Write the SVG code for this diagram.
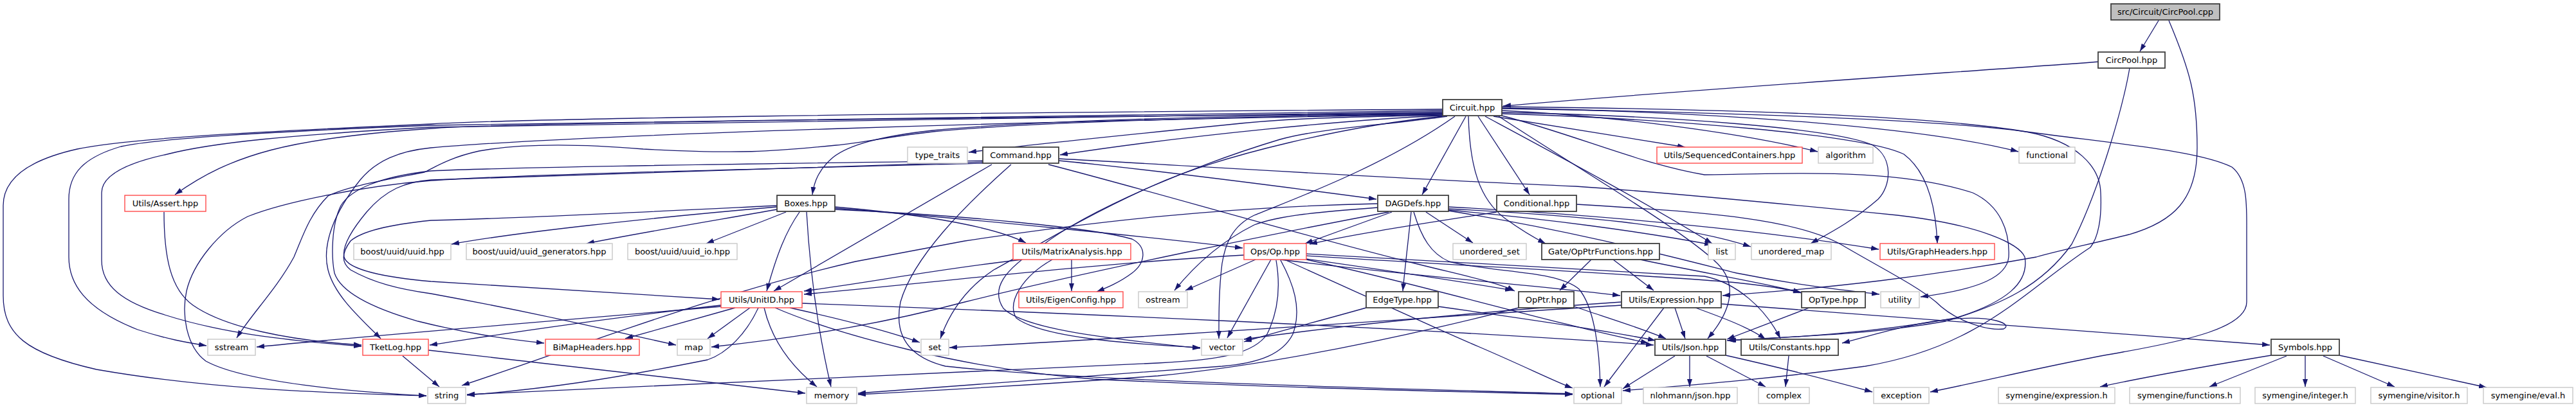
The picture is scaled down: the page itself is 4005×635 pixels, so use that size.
<svg xmlns="http://www.w3.org/2000/svg" width="4005" height="635" viewBox="0 0 4005 635">
<style>
.e path{fill:none;stroke:#191970;stroke-width:1.3;marker-end:url(#a)}
rect{fill:#fff;stroke-width:1.4}
.b rect{stroke:#404040;stroke-width:1.8}
.r rect{stroke:#ff4a4a}
.g rect{stroke:#c8c8c8}
.root rect{fill:#bfbfbf;stroke:#404040;stroke-width:1.8}
text{font-family:"DejaVu Sans","Liberation Sans",sans-serif;font-size:13px;fill:#000;text-anchor:middle}
</style>
<defs>
<marker id="a" viewBox="0 0 12 8" refX="12" refY="4" markerWidth="12" markerHeight="8" markerUnits="userSpaceOnUse" orient="auto"><path d="M0,0 L12,4 L0,8 z" fill="#191970"/></marker>
</defs>
<rect x="0" y="0" width="4005" height="635" style="fill:#fff;stroke:none"/>
<g class="e" id="connectors">
<path d="M3356,32 L3327,80"/>
<path d="M3372,32 C3405,110 3416,150 3416,230 C3416,310 3380,345 3310,365 C3250,380 3200,390 3166,400 C3000,430 2850,448 2678,460"/>
<path d="M3265,96 C3050,112 2620,140 2337,165"/>
<path d="M3311,106 C3300,170 3262,300 3221,380 C3175,445 3110,475 3025,500 C2900,522 2780,524 2685,530"/>
<path d="M2243,170 C1400,176 800,185 670,193 C400,205 200,215 120,232 C40,250 5,280 5,320 L5,460 C5,520 40,550 150,575 C350,610 550,612 663,616"/>
<path d="M2243,172 C1400,180 900,190 670,195 C420,205 250,215 188,228 C130,245 107,270 107,310 L107,400 C107,440 130,480 214,513 C260,528 290,533 321,538"/>
<path d="M2243,174 C1400,182 900,192 670,198 C450,210 330,222 260,240 C190,255 158,275 158,300 L158,405 C158,445 190,470 256,490 C350,520 450,530 562,539"/>
<path d="M2243,176 C1500,184 800,190 670,200 C450,215 360,240 272,303"/>
<path d="M2243,178 C1600,188 900,210 670,230 C620,235 585,250 560,280 C520,330 500,380 510,420 C520,460 560,495 592,527"/>
<path d="M2243,177 C1900,182 1600,190 1450,205 C1380,213 1340,222 1300,226 C1200,236 1150,240 1000,232 C880,222 800,225 745,235 C700,245 680,258 660,268 C600,280 540,290 510,305 C480,335 470,370 457,400 C430,450 390,490 368,526"/>
<path d="M2243,176 C1900,180 1600,188 1450,203 C1370,212 1320,225 1295,245 C1275,262 1266,280 1263,303"/>
<path d="M2243,179 C2050,183 1990,185 1900,195 C1750,210 1600,225 1506,237"/>
<path d="M2243,180 C2100,186 1850,210 1648,241"/>
<path d="M2243,181 C2100,195 1900,240 1790,290 C1680,340 1600,390 1545,420 C1500,450 1475,490 1462,527"/>
<path d="M2250,181 C2150,195 2050,200 1990,217 C1880,250 1700,320 1619,383 C1560,420 1540,450 1560,480 C1590,510 1700,525 1866,542"/>
<path d="M2262,181 C2150,260 2010,310 1950,335 C1915,352 1905,380 1900,410 C1895,450 1895,490 1895,527"/>
<path d="M2279,181 L2211,303"/>
<path d="M2298,181 L2378,303"/>
<path d="M2283,181 C2285,260 2300,310 2340,340 C2365,358 2385,370 2403,379"/>
<path d="M2309,181 C2400,230 2550,310 2662,379"/>
<path d="M2322,181 L2620,229"/>
<path d="M2335,172 C2500,180 2700,205 2826,236"/>
<path d="M2335,168 C2700,175 3000,200 3138,236"/>
<path d="M2335,175 C2600,180 2850,200 2910,225 C2945,245 2940,290 2920,310 C2880,345 2840,365 2815,379"/>
<path d="M2335,177 C2600,185 2900,210 2960,240 C3000,270 3010,330 3012,379"/>
<path d="M2335,180 C2450,210 2550,255 2650,272 C2800,270 2950,262 3067,300 C3110,320 3125,360 3123,400 C3120,430 3080,450 2986,462"/>
<path d="M2335,166 C2700,170 3000,180 3150,205 C3300,225 3420,235 3470,260 C3495,280 3493,320 3493,360 L3493,470 C3493,510 3400,530 3300,548 C3200,565 3100,590 3001,610"/>
<path d="M2335,169 C2700,175 3000,185 3150,205 C3230,220 3265,260 3266,300 C3268,340 3262,370 3250,385 C3150,450 3080,540 2900,570 C2750,590 2620,600 2523,608"/>
<path d="M2330,181 C2450,260 2620,360 2670,410 C2700,440 2695,480 2655,527"/>
<path d="M1208,322 C1000,340 800,362 702,380"/>
<path d="M1208,326 C1100,345 980,365 912,379"/>
<path d="M1222,330 L1098,379"/>
<path d="M1243,330 C1222,360 1208,395 1192,453"/>
<path d="M1254,330 C1258,400 1268,500 1292,602"/>
<path d="M1298,322 C1450,335 1550,355 1595,378"/>
<path d="M1298,324 C1500,340 1800,370 1932,386"/>
<path d="M1298,326 C1500,335 1700,355 1760,372 C1785,385 1780,410 1760,425 C1740,440 1720,448 1705,454"/>
<path d="M1208,320 C1000,330 800,340 670,343 C600,350 560,362 545,375 C530,395 532,410 545,420 C580,440 620,450 670,457 C850,490 950,515 1051,537"/>
<path d="M1646,250 C1800,265 1990,290 2140,310"/>
<path d="M1646,247 C1850,258 2200,280 2450,290 C2600,300 2800,320 2950,335 C3080,350 3140,380 3148,400 C3155,440 3120,470 3040,495 C2900,520 2780,525 2687,530"/>
<path d="M1542,256 L1203,453"/>
<path d="M1630,256 C1800,300 2000,360 2200,410 C2280,430 2330,440 2355,453"/>
<path d="M1572,256 C1500,320 1420,400 1400,470 C1390,520 1410,555 1470,570 C1700,595 2200,605 2445,613"/>
<path d="M1528,254 C1100,265 800,272 670,281 C560,290 440,315 385,337 C340,360 300,410 290,453 C282,490 290,540 320,562 C380,595 550,610 663,616"/>
<path d="M1528,252 C1200,262 900,272 670,280 C630,283 600,295 570,330 C545,360 532,385 535,400 C540,420 600,432 670,438 C850,450 1000,458 1119,466"/>
<path d="M1528,250 C1100,256 800,260 670,266 C590,275 545,295 530,320 C515,350 515,400 520,425 C530,455 580,480 650,500 C730,520 790,528 846,534"/>
<path d="M2164,330 L2029,379"/>
<path d="M2194,330 C2190,370 2185,410 2181,453"/>
<path d="M2198,330 C2210,370 2225,395 2253,407 C2320,425 2420,420 2455,450 C2480,480 2487,550 2488,602"/>
<path d="M2217,330 L2290,378"/>
<path d="M2252,327 C2400,340 2550,360 2662,381"/>
<path d="M2252,325 C2450,335 2620,350 2722,384"/>
<path d="M2252,322 C2500,335 2750,360 2921,388"/>
<path d="M2252,328 C2450,360 2600,400 2700,425 C2800,445 2870,452 2922,458"/>
<path d="M2142,323 C2050,330 1990,335 1950,350 C1900,375 1860,410 1826,452"/>
<path d="M2142,317 C1900,322 1700,345 1500,375 C1420,390 1370,400 1330,407 C1100,460 900,540 718,600"/>
<path d="M2159,330 C2000,360 1700,420 1500,470 C1350,510 1200,530 1106,540"/>
<path d="M2327,330 C2200,350 2100,365 2036,380"/>
<path d="M2451,318 C2650,330 2800,340 2870,385 C2930,420 2980,445 3010,470 C3040,500 3090,515 3115,512 C3130,505 3100,490 3030,497 C2960,505 2900,525 2864,534"/>
<path d="M1666,404 L1666,453"/>
<path d="M1636,404 C1590,430 1565,470 1580,495 C1620,525 1750,535 1866,541"/>
<path d="M1589,404 C1450,420 1350,440 1250,453"/>
<path d="M2031,403 C2150,420 2270,438 2352,452"/>
<path d="M1952,404 L1843,452"/>
<path d="M1976,404 L1908,526"/>
<path d="M1997,404 C2100,450 2236,513 2300,540 C2370,570 2420,595 2445,604"/>
<path d="M2031,404 C2200,440 2400,500 2563,534"/>
<path d="M1990,404 C2200,430 2400,445 2519,460"/>
<path d="M2031,395 C2300,410 2550,425 2650,430 C2700,440 2745,480 2768,527"/>
<path d="M2031,398 C2300,415 2600,430 2700,440 C2750,445 2780,450 2800,456"/>
<path d="M1934,397 C1700,410 1450,440 1250,458"/>
<path d="M1991,405 C2010,440 2025,480 2010,520 C1995,550 1960,565 1900,570 C1700,585 1500,600 1334,612"/>
<path d="M1984,405 C1990,440 1990,480 1970,520 C1950,550 1900,560 1800,565 C1500,580 1000,600 726,614"/>
<path d="M2474,404 L2425,452"/>
<path d="M2508,404 L2571,452"/>
<path d="M2550,404 C2650,425 2740,440 2800,455"/>
<path d="M2447,477 C2500,495 2550,510 2590,527"/>
<path d="M2361,479 C2200,520 2000,565 1800,585 C1600,600 1450,608 1334,614"/>
<path d="M2236,477 C2400,500 2500,515 2574,530"/>
<path d="M2124,479 C2050,500 1990,515 1934,532"/>
<path d="M2604,479 L2620,527"/>
<path d="M2587,479 L2494,602"/>
<path d="M2676,473 C3000,495 3300,520 3529,537"/>
<path d="M2521,475 C2200,495 1800,525 1476,541"/>
<path d="M2636,479 C2680,495 2720,510 2745,528"/>
<path d="M2521,470 C2300,485 2100,505 1934,528"/>
<path d="M2813,479 L2685,528"/>
<path d="M2604,554 L2523,605"/>
<path d="M2627,554 L2627,602"/>
<path d="M2653,554 L2745,602"/>
<path d="M2683,553 C2780,575 2850,593 2911,610"/>
<path d="M2781,554 L2776,602"/>
<path d="M3531,553 C3400,575 3320,590 3265,602"/>
<path d="M3555,554 L3435,602"/>
<path d="M3584,554 L3584,602"/>
<path d="M3612,554 L3723,602"/>
<path d="M3637,553 L3866,603"/>
<path d="M1121,475 C900,500 750,525 668,537"/>
<path d="M1121,477 C800,505 600,520 399,540"/>
<path d="M1143,479 L972,527"/>
<path d="M1166,479 L1100,527"/>
<path d="M1179,479 C1160,520 1130,550 1100,560 C950,590 850,605 726,615"/>
<path d="M1188,479 C1200,530 1230,570 1270,602"/>
<path d="M1228,479 C1300,495 1380,515 1430,533"/>
<path d="M1205,479 C1300,520 1500,575 1700,590 C2000,605 2300,610 2445,614"/>
<path d="M1247,472 C1600,485 2200,510 2571,537"/>
<path d="M626,554 L683,602"/>
<path d="M666,545 C900,570 1100,595 1252,612"/>
<path d="M255,330 C255,400 265,450 300,475 C350,510 450,530 562,537"/>
</g>
<g id="n_cpp" class="root"><rect x="3282" y="6" width="169" height="25"/><text x="3366.5" y="23">src/Circuit/CircPool.cpp</text></g>
<g id="n_circpool" class="b"><rect x="3262" y="81" width="104" height="25"/><text x="3314" y="98">CircPool.hpp</text></g>
<g id="n_circuit" class="b"><rect x="2243" y="155" width="92" height="25"/><text x="2289" y="172">Circuit.hpp</text></g>
<g id="n_typetraits" class="g"><rect x="1411" y="229" width="93" height="25"/><text x="1457.5" y="246">type_traits</text></g>
<g id="n_command" class="b"><rect x="1528" y="229" width="118" height="25"/><text x="1587" y="246">Command.hpp</text></g>
<g id="n_seqcont" class="r"><rect x="2576" y="229" width="226" height="25"/><text x="2689" y="246">Utils/SequencedContainers.hpp</text></g>
<g id="n_algorithm" class="g"><rect x="2827" y="229" width="85" height="25"/><text x="2869.5" y="246">algorithm</text></g>
<g id="n_functional" class="g"><rect x="3139" y="229" width="87" height="25"/><text x="3182.5" y="246">functional</text></g>
<g id="n_assert" class="r"><rect x="194" y="304" width="126" height="25"/><text x="257" y="321">Utils/Assert.hpp</text></g>
<g id="n_boxes" class="b"><rect x="1208" y="304" width="90" height="25"/><text x="1253" y="321">Boxes.hpp</text></g>
<g id="n_dagdefs" class="b"><rect x="2142" y="304" width="110" height="25"/><text x="2197" y="321">DAGDefs.hpp</text></g>
<g id="n_conditional" class="b"><rect x="2327" y="304" width="124" height="25"/><text x="2389" y="321">Conditional.hpp</text></g>
<g id="n_uuid" class="g"><rect x="550" y="379" width="151" height="25"/><text x="625.5" y="396">boost/uuid/uuid.hpp</text></g>
<g id="n_uuidgen" class="g"><rect x="725" y="379" width="227" height="25"/><text x="838.5" y="396">boost/uuid/uuid_generators.hpp</text></g>
<g id="n_uuidio" class="g"><rect x="976" y="379" width="170" height="25"/><text x="1061" y="396">boost/uuid/uuid_io.hpp</text></g>
<g id="n_matrix" class="r"><rect x="1575" y="379" width="183" height="25"/><text x="1666.5" y="396">Utils/MatrixAnalysis.hpp</text></g>
<g id="n_op" class="r"><rect x="1934" y="379" width="97" height="25"/><text x="1982.5" y="396">Ops/Op.hpp</text></g>
<g id="n_uset" class="g"><rect x="2259" y="379" width="114" height="25"/><text x="2316" y="396">unordered_set</text></g>
<g id="n_opptrfn" class="b"><rect x="2397" y="379" width="183" height="25"/><text x="2488.5" y="396">Gate/OpPtrFunctions.hpp</text></g>
<g id="n_list" class="g"><rect x="2656" y="379" width="42" height="25"/><text x="2677" y="396">list</text></g>
<g id="n_umap" class="g"><rect x="2723" y="379" width="124" height="25"/><text x="2785" y="396">unordered_map</text></g>
<g id="n_graph" class="r"><rect x="2923" y="379" width="178" height="25"/><text x="3012" y="396">Utils/GraphHeaders.hpp</text></g>
<g id="n_unitid" class="r"><rect x="1121" y="454" width="126" height="25"/><text x="1184" y="471">Utils/UnitID.hpp</text></g>
<g id="n_eigen" class="r"><rect x="1584" y="454" width="162" height="25"/><text x="1665" y="471">Utils/EigenConfig.hpp</text></g>
<g id="n_ostream" class="g"><rect x="1770" y="454" width="76" height="25"/><text x="1808" y="471">ostream</text></g>
<g id="n_edgetype" class="b"><rect x="2124" y="454" width="112" height="25"/><text x="2180" y="471">EdgeType.hpp</text></g>
<g id="n_opptr" class="b"><rect x="2361" y="454" width="86" height="25"/><text x="2404" y="471">OpPtr.hpp</text></g>
<g id="n_expr" class="b"><rect x="2521" y="454" width="155" height="25"/><text x="2598.5" y="471">Utils/Expression.hpp</text></g>
<g id="n_optype" class="b"><rect x="2801" y="454" width="99" height="25"/><text x="2850.5" y="471">OpType.hpp</text></g>
<g id="n_utility" class="g"><rect x="2924" y="454" width="60" height="25"/><text x="2954" y="471">utility</text></g>
<g id="n_sstream" class="g"><rect x="323" y="528" width="74" height="25"/><text x="360" y="545">sstream</text></g>
<g id="n_tketlog" class="r"><rect x="564" y="528" width="102" height="25"/><text x="615" y="545">TketLog.hpp</text></g>
<g id="n_bimap" class="r"><rect x="848" y="528" width="146" height="25"/><text x="921" y="545">BiMapHeaders.hpp</text></g>
<g id="n_map" class="g"><rect x="1053" y="528" width="51" height="25"/><text x="1078.5" y="545">map</text></g>
<g id="n_set" class="g"><rect x="1432" y="528" width="43" height="25"/><text x="1453.5" y="545">set</text></g>
<g id="n_vector" class="g"><rect x="1868" y="528" width="64" height="25"/><text x="1900" y="545">vector</text></g>
<g id="n_json" class="b"><rect x="2573" y="528" width="110" height="25"/><text x="2628" y="545">Utils/Json.hpp</text></g>
<g id="n_constants" class="b"><rect x="2707" y="528" width="151" height="25"/><text x="2782.5" y="545">Utils/Constants.hpp</text></g>
<g id="n_symbols" class="b"><rect x="3531" y="528" width="106" height="25"/><text x="3584" y="545">Symbols.hpp</text></g>
<g id="n_string" class="g"><rect x="665" y="603" width="59" height="25"/><text x="694.5" y="620">string</text></g>
<g id="n_memory" class="g"><rect x="1254" y="603" width="78" height="25"/><text x="1293" y="620">memory</text></g>
<g id="n_optional" class="g"><rect x="2447" y="603" width="74" height="25"/><text x="2484" y="620">optional</text></g>
<g id="n_nlohmann" class="g"><rect x="2555" y="603" width="146" height="25"/><text x="2628" y="620">nlohmann/json.hpp</text></g>
<g id="n_complex" class="g"><rect x="2734" y="603" width="79" height="25"/><text x="2773.5" y="620">complex</text></g>
<g id="n_exception" class="g"><rect x="2913" y="603" width="86" height="25"/><text x="2956" y="620">exception</text></g>
<g id="n_symexpr" class="g"><rect x="3107" y="603" width="181" height="25"/><text x="3197.5" y="620">symengine/expression.h</text></g>
<g id="n_symfunc" class="g"><rect x="3311" y="603" width="172" height="25"/><text x="3397" y="620">symengine/functions.h</text></g>
<g id="n_symint" class="g"><rect x="3506" y="603" width="156" height="25"/><text x="3584" y="620">symengine/integer.h</text></g>
<g id="n_symvis" class="g"><rect x="3686" y="603" width="150" height="25"/><text x="3761" y="620">symengine/visitor.h</text></g>
<g id="n_symeval" class="g"><rect x="3861" y="603" width="139" height="25"/><text x="3930.5" y="620">symengine/eval.h</text></g>
</svg>
